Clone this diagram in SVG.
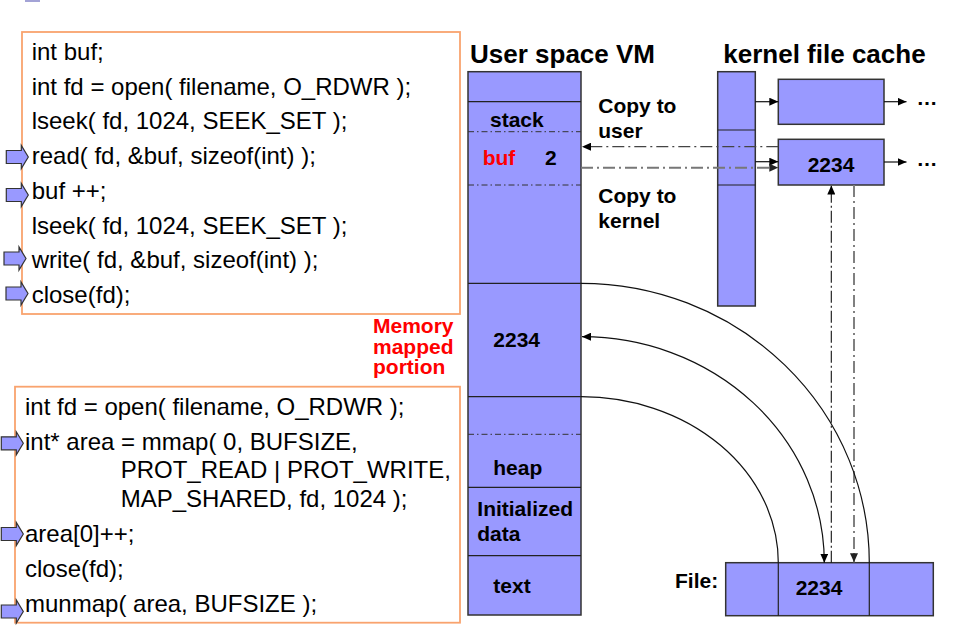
<svg xmlns="http://www.w3.org/2000/svg" xmlns:xlink="http://www.w3.org/1999/xlink" width="954" height="626" viewBox="0 0 954 626">
<style>
.code{font-family:"Liberation Sans",Arial,sans-serif;font-size:24px;fill:#000}
.lbl{font-family:"Liberation Sans",Arial,sans-serif;font-size:21px;font-weight:bold;fill:#000}
.title{font-family:"Liberation Sans",Arial,sans-serif;font-size:26px;font-weight:bold;fill:#000}
.red{fill:#FF0000}
.box{fill:none;stroke:#F9A36E;stroke-width:1.8}
.blk{fill:#9999FF;stroke:#333;stroke-width:1.5}
.sep{stroke:#222;stroke-width:1.2;fill:none}
.dd{stroke:#333;stroke-width:1;stroke-dasharray:6 3 1.5 3;fill:none}
.ptr{fill:#9999FF;stroke:#333;stroke-width:1.2}
.ln{stroke:#111;stroke-width:1.2;fill:none}
</style>
<defs>
<path id="ptr" d="M-22,-6.5 H-7 V-11.5 L0,0 L-7,11.5 V6.5 H-22 Z"/>
<marker id="ah" markerUnits="userSpaceOnUse" markerWidth="9" markerHeight="8" refX="9" refY="4" orient="auto-start-reverse"><path d="M0,0 L9,4 L0,8 Z" fill="#000"/></marker>
<marker id="ahg" markerUnits="userSpaceOnUse" markerWidth="9" markerHeight="8" refX="9" refY="4" orient="auto-start-reverse"><path d="M0,0 L9,4 L0,8 Z" fill="#222"/></marker>
</defs>
<rect x="25" y="0" width="15" height="2" fill="#A3A3D6"/>

<g id="code-read-write">
<rect class="box" x="22" y="32" width="438" height="282"/>
<text class="code" x="31.7" y="60">int buf;</text>
<text class="code" x="31.7" y="94.7">int fd = open( filename, O_RDWR );</text>
<text class="code" x="31.7" y="129.4">lseek( fd, 1024, SEEK_SET );</text>
<text class="code" x="31.7" y="164.1">read( fd, &amp;buf, sizeof(int) );</text>
<text class="code" x="31.7" y="198.8">buf ++;</text>
<text class="code" x="31.7" y="233.5">lseek( fd, 1024, SEEK_SET );</text>
<text class="code" x="31.7" y="268.2">write( fd, &amp;buf, sizeof(int) );</text>
<text class="code" x="31.7" y="302.9">close(fd);</text>
<use xlink:href="#ptr" class="ptr" x="28.3" y="157"/>
<use xlink:href="#ptr" class="ptr" x="28.3" y="195"/>
<use xlink:href="#ptr" class="ptr" x="26" y="258.5"/>
<use xlink:href="#ptr" class="ptr" x="28" y="293.5"/>
</g>

<g id="mem-label">
<text class="lbl red" x="373" y="333.3">Memory</text>
<text class="lbl red" x="373" y="353.6">mapped</text>
<text class="lbl red" x="373" y="374">portion</text>
</g>

<g id="code-mmap">
<rect class="box" x="15" y="386.7" width="445" height="236"/>
<text class="code" x="25" y="415">int fd = open( filename, O_RDWR );</text>
<text class="code" x="25" y="450">int* area = mmap( 0, BUFSIZE,</text>
<text class="code" x="120.7" y="478.3">PROT_READ | PROT_WRITE,</text>
<text class="code" x="120.7" y="506.7">MAP_SHARED, fd, 1024 );</text>
<text class="code" x="25" y="541.7">area[0]++;</text>
<text class="code" x="25" y="576.7">close(fd);</text>
<text class="code" x="25" y="611.7">munmap( area, BUFSIZE );</text>
<use xlink:href="#ptr" class="ptr" x="23.3" y="443.3"/>
<use xlink:href="#ptr" class="ptr" x="23.3" y="534"/>
<use xlink:href="#ptr" class="ptr" x="23.3" y="611.5"/>
</g>

<g id="user-vm">
<text class="title" x="470" y="63.3">User space VM</text>
<rect class="blk" x="468" y="71.7" width="113" height="543.3"/>
<line class="sep" x1="468" y1="101.7" x2="581" y2="101.7"/>
<line class="dd" x1="468" y1="131.7" x2="581" y2="131.7"/>
<line class="dd" x1="468" y1="185" x2="581" y2="185"/>
<line class="sep" x1="468" y1="283.3" x2="581" y2="283.3"/>
<line class="sep" x1="468" y1="396.7" x2="581" y2="396.7"/>
<line class="dd" x1="468" y1="434.3" x2="581" y2="434.3"/>
<line class="sep" x1="468" y1="487.3" x2="581" y2="487.3"/>
<line class="sep" x1="468" y1="555.7" x2="581" y2="555.7"/>
<text class="lbl" x="490" y="126.7">stack</text>
<text class="lbl red" x="482.7" y="165">buf</text>
<text class="lbl" x="545" y="165">2</text>
<text class="lbl" x="493.3" y="346.7">2234</text>
<text class="lbl" x="493.3" y="475">heap</text>
<text class="lbl" x="477.3" y="516">Initialized</text>
<text class="lbl" x="477.3" y="540.7">data</text>
<text class="lbl" x="493.3" y="592.7">text</text>
</g>

<g id="copy-labels">
<text class="lbl" x="598.3" y="113.3">Copy to</text>
<text class="lbl" x="598.3" y="138.3">user</text>
<text class="lbl" x="598.3" y="203.3">Copy to</text>
<text class="lbl" x="598.3" y="228.3">kernel</text>
</g>

<g id="kernel-cache">
<text class="title" x="723.3" y="63.3">kernel file cache</text>
<rect class="blk" x="717.7" y="71.7" width="37.6" height="234.3"/>
<line class="sep" x1="717.7" y1="130" x2="755.3" y2="130"/>
<line class="sep" x1="717.7" y1="185" x2="755.3" y2="185"/>
</g>

<g id="cache-page-1">
<rect class="blk" x="778.3" y="79.3" width="105.7" height="45"/>
<text class="lbl" x="916.5" y="104.5">…</text>
</g>

<g id="cache-page-2">
<rect class="blk" x="778.3" y="139.3" width="105.7" height="45.7"/>
<text class="lbl" x="831" y="172" text-anchor="middle">2234</text>
<text class="lbl" x="916.5" y="166">…</text>
</g>

<g id="file">
<text class="lbl" x="675" y="588.3">File:</text>
<rect class="blk" x="725.7" y="562.7" width="207.6" height="53"/>
<line class="sep" x1="778.3" y1="562.7" x2="778.3" y2="615.7"/>
<line class="sep" x1="869.3" y1="562.7" x2="869.3" y2="615.7"/>
<text class="lbl" x="795.7" y="595">2234</text>
</g>

<g id="connectors">
<line class="ln" x1="755.3" y1="101.7" x2="778.3" y2="101.7" marker-end="url(#ah)"/>
<line class="ln" x1="884" y1="101.7" x2="906.5" y2="101.7" marker-end="url(#ah)"/>
<line class="ln" x1="755.3" y1="161.7" x2="778.3" y2="161.7" marker-end="url(#ah)"/>
<line class="ln" x1="884" y1="162" x2="906.5" y2="162" marker-end="url(#ah)"/>
<line x1="778.3" y1="146.7" x2="582" y2="146.7" stroke="#444" stroke-width="1.3" stroke-dasharray="12 4 2 4" marker-end="url(#ah)"/>
<line x1="581" y1="167.7" x2="778.3" y2="167.7" stroke="#777" stroke-width="2" stroke-dasharray="12 4 2 4" marker-end="url(#ahg)"/>
<line x1="831.3" y1="562.7" x2="831.3" y2="185.5" stroke="#111" stroke-width="1.1" stroke-dasharray="12 3 2 3" marker-end="url(#ah)"/>
<line x1="854" y1="185" x2="854" y2="562.2" stroke="#808080" stroke-width="2" stroke-dasharray="12 4 2 4" marker-end="url(#ahg)"/>
<path class="ln" d="M581,283.3 A288.3,279.4 0 0 1 869.3,562.7"/>
<path class="ln" d="M582,336.7 A242.3,226 0 0 1 824.3,562.7" marker-start="url(#ah)" marker-end="url(#ah)"/>
<path class="ln" d="M581,396.7 A197.3,166 0 0 1 778.3,562.7"/>
</g>
</svg>
